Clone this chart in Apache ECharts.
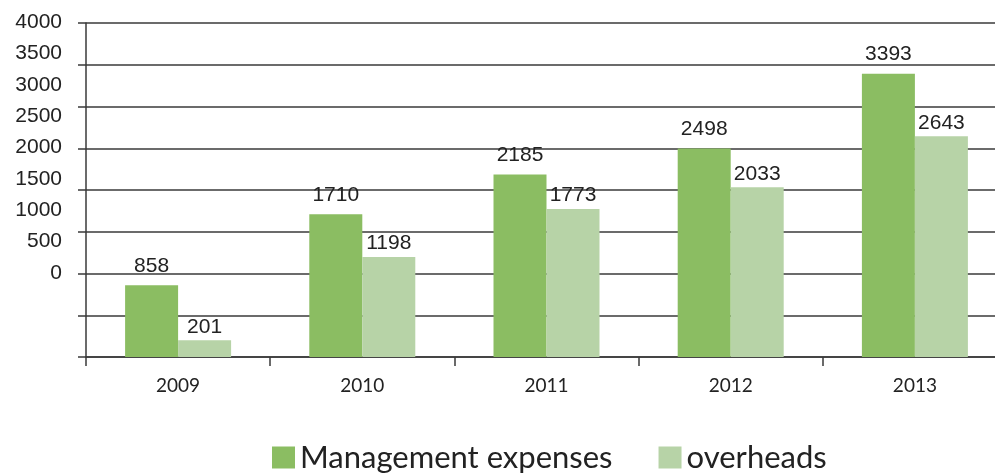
<!DOCTYPE html>
<html>
<head>
<meta charset="utf-8">
<script src="https://cdn.jsdelivr.net/npm/echarts@6/dist/echarts.min.js"></script>
<style>
  html, body { margin: 0; padding: 0; background: #fff; }
  #chart { width: 995px; height: 475px; }
</style>
</head>
<body>
<div id="chart"></div>
<script>
// data
const years = ['2009', '2010', '2011', '2012', '2013']
const management = [858, 1710, 2185, 2498, 3393]
const overheads = [201, 1198, 1773, 2033, 2643]
const yTicks = [0, 4000, 500] // min, max, step

const chart = echarts.init(document.getElementById('chart'))

const lineCol = '#3a3a3a'
const textCol = '#222'

const option = {
  animation: false,
  grid: [
    // plot area (runs a bit past the right edge, like the original)
    { left: 86, width: 921, top: 23, bottom: 118, outerBoundsMode: 'none' },
    // the printed tick labels sit on their own (squeezed) scale
    { left: 86, width: 921, top: 22, bottom: 202, outerBoundsMode: 'none' }
  ],
  legend: {
    top: 437,
    left: 267,
    itemWidth: 23,
    itemHeight: 22,
    itemGap: 46,
    icon: 'rect',
    textStyle: { fontFamily: 'Lato', fontSize: 31, color: textCol },
    data: ['Management expenses', 'overheads']
  },
  xAxis: [{
    type: 'category',
    gridIndex: 0,
    data: years,
    axisLine: { lineStyle: { color: lineCol, width: 1.5 } },
    axisTick: { show: true, length: 9, lineStyle: { color: lineCol, width: 1.5 } },
    axisLabel: { fontFamily: 'Lato', fontSize: 19, color: textCol, margin: 19 }
  }, {
    type: 'category',
    gridIndex: 1,
    data: years,
    show: false
  }],
  yAxis: [{
    type: 'value',
    gridIndex: 0,
    min: yTicks[0],
    max: yTicks[1],
    interval: yTicks[2],
    axisLine: { show: true, lineStyle: { color: lineCol, width: 1.5 } },
    axisTick: { show: true, length: 8, lineStyle: { color: lineCol, width: 1.5 } },
    axisLabel: { show: false },
    splitLine: { show: true, lineStyle: { color: lineCol, width: 1.5 } }
  }, {
    type: 'value',
    gridIndex: 1,
    min: yTicks[0],
    max: yTicks[1],
    interval: yTicks[2],
    axisLine: { show: false },
    axisTick: { show: false },
    splitLine: { show: false },
    axisLabel: {
      fontFamily: 'Liberation Sans',
      fontSize: 21,
      color: textCol,
      margin: 24,
      formatter: (v) => String(v)
    }
  }],
  series: [{
    name: 'Management expenses',
    type: 'bar',
    xAxisIndex: 0,
    yAxisIndex: 0,
    barWidth: 53,
    barGap: '0%',
    itemStyle: { color: '#8bbd62' },
    label: {
      show: true,
      position: 'top',
      distance: 9,
      fontFamily: 'Liberation Sans',
      fontSize: 21,
      color: textCol
    },
    data: management
  }, {
    name: 'overheads',
    type: 'bar',
    xAxisIndex: 0,
    yAxisIndex: 0,
    barWidth: 53,
    barGap: '0%',
    itemStyle: { color: '#b7d3a7' },
    label: {
      show: true,
      position: 'top',
      distance: 3,
      fontFamily: 'Liberation Sans',
      fontSize: 21,
      color: textCol
    },
    data: overheads
  }]
}

chart.setOption(option)
window.addEventListener('resize', () => {
  chart.resize()
})
</script>
</body>
</html>
